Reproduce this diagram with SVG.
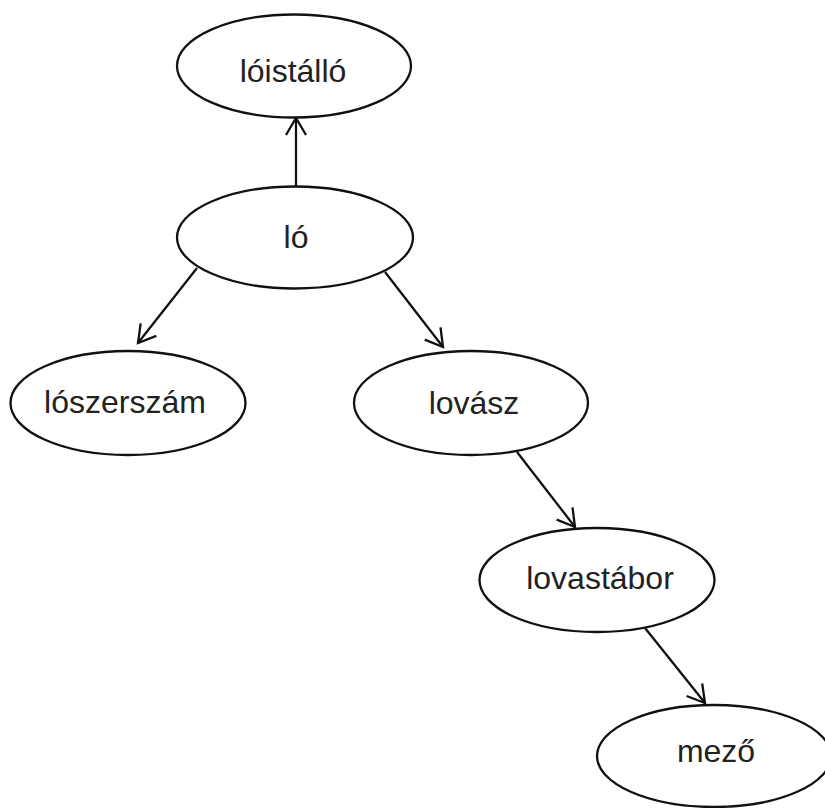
<svg xmlns="http://www.w3.org/2000/svg" width="825" height="808" viewBox="0 0 825 808">
<style>
.node ellipse{fill:#fff;stroke:#111;stroke-width:2.3}
.node text{font-family:"Liberation Sans",Arial,sans-serif;font-size:32px;fill:#222;text-anchor:middle}
.edge{stroke:#111;stroke-width:2.3;fill:none;marker-end:url(#arr)}
</style>
<defs>
<marker id="arr" markerUnits="userSpaceOnUse" markerWidth="24" markerHeight="24" viewBox="-20 -12 22 24" refX="0" refY="0" orient="auto">
<path d="M-17,-10 L0,0 L-17,10" fill="none" stroke="#111" stroke-width="2.3"/>
</marker>
</defs>
<rect width="825" height="808" fill="#fff"/>
<g id="connectors">
<line class="edge" x1="296" y1="186" x2="296" y2="118"/>
<line class="edge" x1="197" y1="268" x2="138" y2="343"/>
<line class="edge" x1="385" y1="272" x2="443" y2="347"/>
<line class="edge" x1="517" y1="452" x2="575" y2="527"/>
<line class="edge" x1="645" y1="628" x2="705" y2="703"/>
</g>
<g id="loistallo" class="node"><ellipse cx="294" cy="66" rx="117" ry="51.5"/><text x="293" y="82">lóistálló</text></g>
<g id="lo" class="node"><ellipse cx="295" cy="237.5" rx="118" ry="51"/><text x="296" y="248">ló</text></g>
<g id="loszerszam" class="node"><ellipse cx="128" cy="403" rx="117.5" ry="52"/><text x="125" y="413">lószerszám</text></g>
<g id="lovasz" class="node"><ellipse cx="471" cy="403" rx="117" ry="52"/><text x="474" y="414">lovász</text></g>
<g id="lovastabor" class="node"><ellipse cx="597" cy="580" rx="117.5" ry="52"/><text x="600" y="589">lovastábor</text></g>
<g id="mezo" class="node"><ellipse cx="714" cy="756" rx="117" ry="51"/><text x="716" y="762">mező</text></g>
</svg>
